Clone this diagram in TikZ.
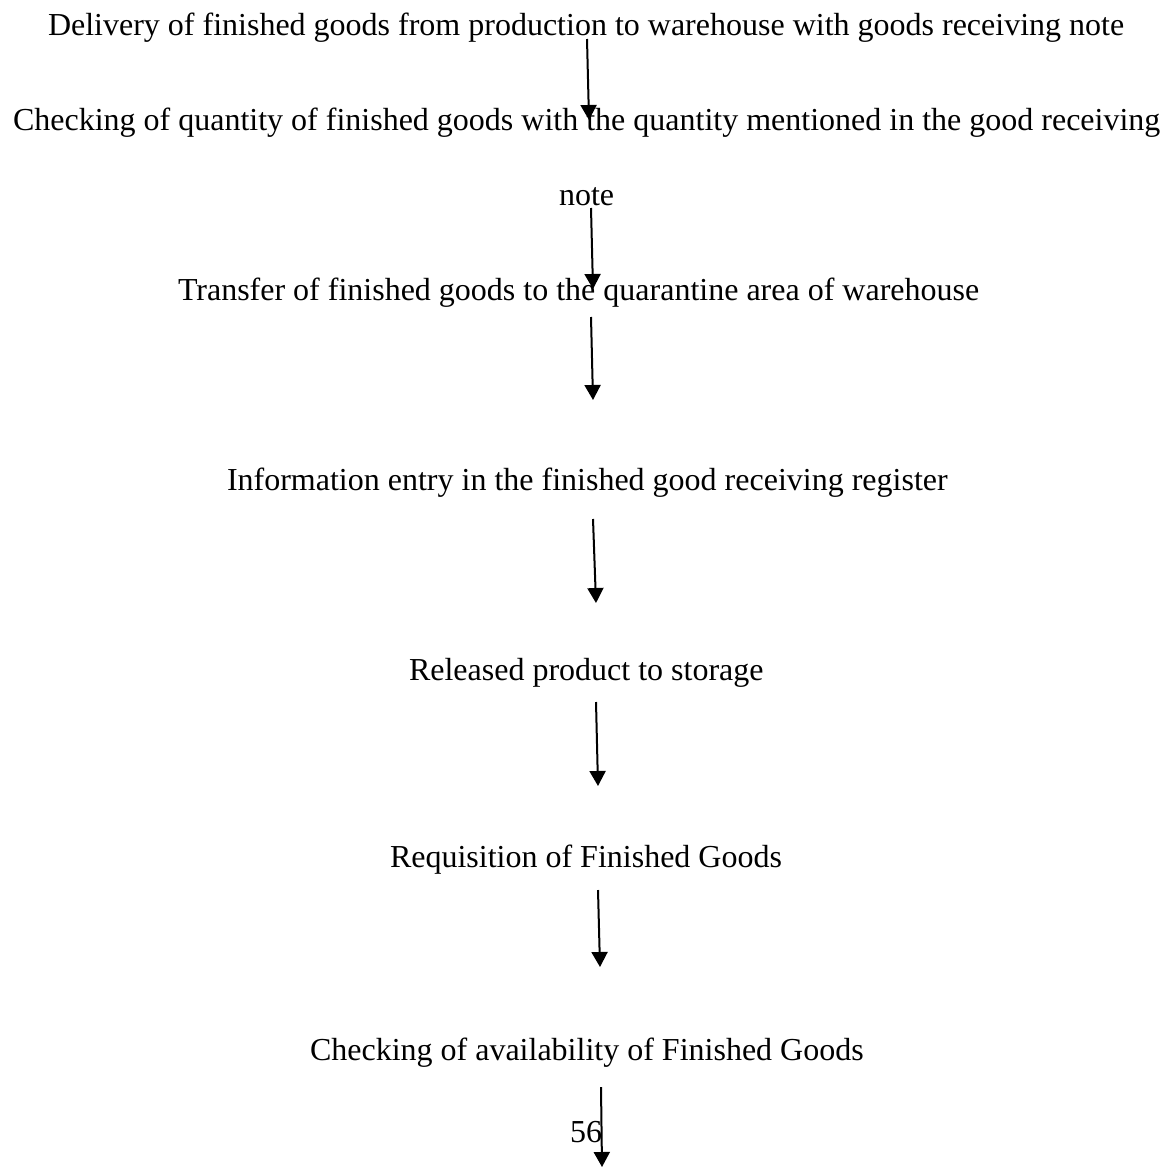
\documentclass[tikz,border=0pt]{standalone}
\usepackage{fontspec}
\setmainfont{Liberation Serif}
\usetikzlibrary{arrows.meta}
\begin{document}
\begin{tikzpicture}[x=1pt,y=-1pt,
  lbl/.style={anchor=base west,inner sep=0pt,outer sep=0pt,font=\fontsize{32}{38}\selectfont},
  flow/.style={line width=2pt,-{Triangle[width=16pt,length=15pt]}}]
\useasboundingbox[fill=white] (0,0) rectangle (1169,1167);
\node[lbl] (t1) at (48,35) {Delivery of finished goods from production to warehouse with goods receiving note};
\node[lbl] (t2) at (13,130) {Checking of quantity of finished goods with the quantity mentioned in the good receiving};
\node[lbl] (t3) at (559,205) {note};
\node[lbl] (t4) at (178,300) {Transfer of finished goods to the quarantine area of warehouse};
\node[lbl] (t5) at (227,490) {Information entry in the finished good receiving register};
\node[lbl] (t6) at (409,680) {Released product to storage};
\node[lbl] (t7) at (390,867) {Requisition of Finished Goods};
\node[lbl] (t8) at (310,1060) {Checking of availability of Finished Goods};
\node[lbl] (t9) at (570,1142) {56};
\coordinate (a1s) at (587,39);   \coordinate (a1e) at (589,120);
\coordinate (a2s) at (591,208);  \coordinate (a2e) at (593,289);
\coordinate (a3s) at (591,317);  \coordinate (a3e) at (593,400);
\coordinate (a4s) at (593,519);  \coordinate (a4e) at (596,603);
\coordinate (a5s) at (596,702);  \coordinate (a5e) at (598,786);
\coordinate (a6s) at (598,890);  \coordinate (a6e) at (600,967);
\coordinate (a7s) at (601,1087); \coordinate (a7e) at (602,1167);
\draw[flow] (a1s) -- (a1e);
\draw[flow] (a2s) -- (a2e);
\draw[flow] (a3s) -- (a3e);
\draw[flow] (a4s) -- (a4e);
\draw[flow] (a5s) -- (a5e);
\draw[flow] (a6s) -- (a6e);
\draw[flow] (a7s) -- (a7e);
\end{tikzpicture}
\end{document}
